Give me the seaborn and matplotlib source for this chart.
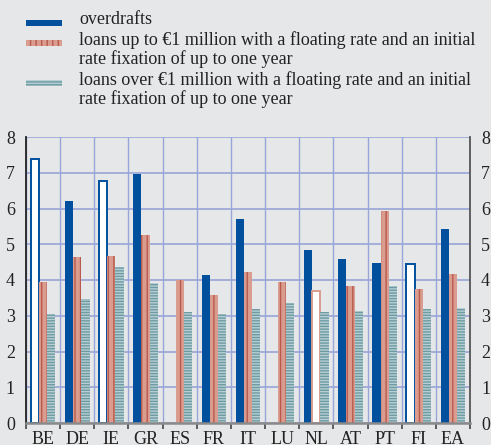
import matplotlib
matplotlib.use("Agg")
import matplotlib.pyplot as plt
from matplotlib.patches import Rectangle
import numpy as np
import pandas as pd
import seaborn as sns

countries = ["BE", "DE", "IE", "GR", "ES", "FR", "IT", "LU", "NL", "AT", "PT", "FI", "EA"]
overdrafts = [7.38, 6.22, 6.78, 6.97, np.nan, 4.13, 5.70, np.nan, 4.85, 4.58, 4.48, 4.45, 5.42]
loans_small = [3.95, 4.65, 4.67, 5.25, 4.00, 3.57, 4.23, 3.95, 3.70, 3.82, 5.93, 3.75, 4.17]
loans_large = [3.05, 3.48, 4.35, 3.92, 3.10, 3.05, 3.20, 3.35, 3.10, 3.13, 3.83, 3.20, 3.23]
series_names = [
    "overdrafts",
    "loans up to €1 million with a floating rate and an initial\nrate fixation of up to one year",
    "loans over €1 million with a floating rate and an initial\nrate fixation of up to one year",
]
# bars shown as outlines only (series index, country)
hollow = [(0, "BE"), (0, "IE"), (0, "FI"), (1, "NL")]

face = ["#00509e", "#d99c8e", "#b7cfd2"]
stripe = ["#00509e", "#b85a4e", "#6d9ba4"]
hatches = [None, "|||", "------"]
bg = "#e6e7e9"
grid_col = "#98a5d8"

df = pd.DataFrame({
    "country": countries * 3,
    "series": [series_names[0]] * 13 + [series_names[1]] * 13 + [series_names[2]] * 13,
    "value": overdrafts + loans_small + loans_large,
})

plt.rcParams["font.family"] = ["Liberation Serif", "DejaVu Serif"]
plt.rcParams["hatch.linewidth"] = 1.0

fig = plt.figure(figsize=(4.91, 4.45), dpi=100, facecolor=bg)
ax = fig.add_axes([26 / 491, 22 / 445, 444 / 491, 286 / 445])
ax.set_facecolor(bg)

sns.barplot(data=df, x="country", y="value", hue="series", order=countries,
            hue_order=series_names, palette=face, saturation=1, width=0.72,
            legend=False, ax=ax)

for i, cont in enumerate(ax.containers):
    for bar in cont:
        c = countries[int(round(bar.get_x() + bar.get_width() / 2))]
        if (i, c) in hollow:
            bar.set_facecolor("white")
            bar.set_edgecolor(face[i])
            bar.set_linewidth(1.4)
        else:
            bar.set_edgecolor(stripe[i])
            bar.set_linewidth(0)
            if hatches[i]:
                bar.set_hatch(hatches[i])

ax.set_xlim(-0.5, 12.5)
ax.set_ylim(0, 8)
ax.set_yticks(range(9))
ax.set_xticks(np.arange(13))
ax.set_xticks(np.arange(-0.5, 13, 1), minor=True)
ax.set_xticklabels(countries)
ax.set_xlabel("")
ax.set_ylabel("")
ax.set_axisbelow(True)
ax.grid(axis="y", which="major", color=grid_col, lw=1.2)
ax.grid(axis="x", which="minor", color=grid_col, lw=1.0)
ax.grid(axis="x", which="major", visible=False)

ax.tick_params(axis="x", which="major", length=0, labelsize=13, pad=6, colors="#222222")
ax.tick_params(axis="x", which="minor", length=4, width=1.2, color="#444444", direction="out")
ax.tick_params(axis="y", which="major", length=0, labelsize=13, pad=8,
               left=True, right=True, labelleft=True, labelright=True, colors="#222222")

ax.spines["top"].set_visible(False)
ax.spines["left"].set_color("#222222")
ax.spines["left"].set_linewidth(1.3)
ax.spines["right"].set_color("#555555")
ax.spines["right"].set_linewidth(1.3)
ax.spines["bottom"].set_color("#8a8a8a")
ax.spines["bottom"].set_linewidth(1.8)

# legend block at the top
leg_rows = [23, 43, 83]
for i, (name, y) in enumerate(zip(series_names, leg_rows)):
    r = Rectangle((26 / 491, 1 - (y + 3) / 445), 36 / 491, 6 / 445,
                  transform=fig.transFigure, facecolor=face[i], edgecolor=stripe[i],
                  lw=0, hatch=hatches[i])
    fig.add_artist(r)
    fig.text(79 / 491, 1 - (y - 12) / 445, name, fontsize=13, va="top",
             ha="left", color="#222222", linespacing=1.12)

fig.savefig("out.png", dpi=100, facecolor=bg)
